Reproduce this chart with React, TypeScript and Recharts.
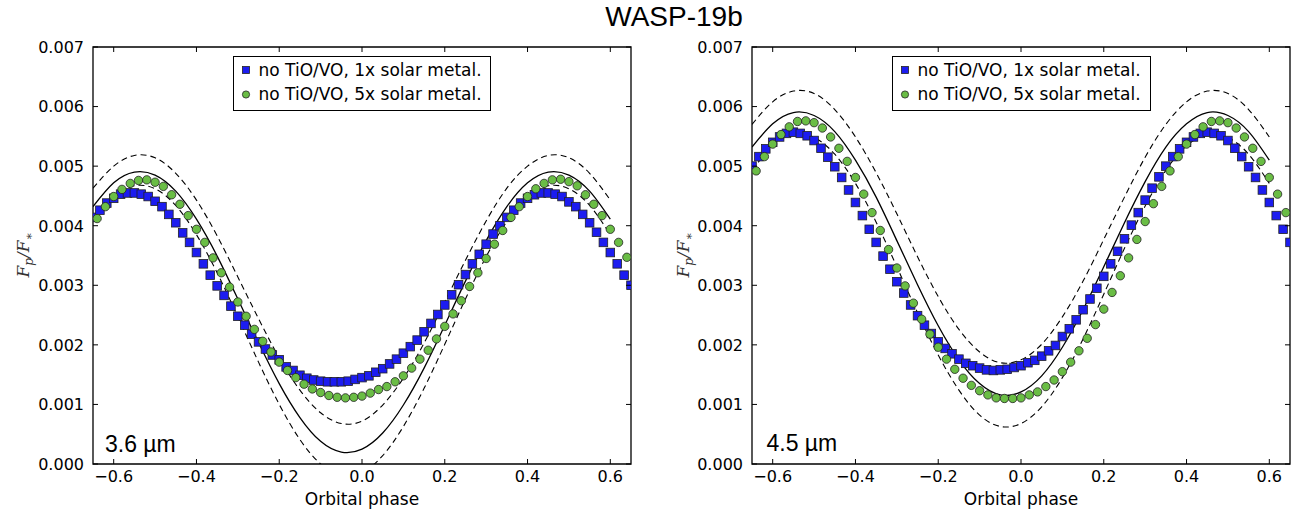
import React from 'react';
import { ComposedChart, Line, Scatter, XAxis, YAxis, ReferenceArea } from 'recharts';

// ---------- data (flux ratio in units of 1e-3) ----------
const sqPhase = [
  -0.65, -0.6333, -0.6167, -0.6, -0.5833, -0.5667, -0.55, -0.5333, -0.5167, -0.5,
  -0.4833, -0.4667, -0.45, -0.4333, -0.4167, -0.4, -0.3833, -0.3667, -0.35, -0.3333,
  -0.3167, -0.3, -0.2833, -0.2667, -0.25, -0.2333, -0.2167, -0.2, -0.1833, -0.1667,
  -0.15, -0.1333, -0.1167, -0.1, -0.0833, -0.0667, -0.05, -0.0333, -0.0167, 0,
  0.0167, 0.0333, 0.05, 0.0667, 0.0833, 0.1, 0.1167, 0.1333, 0.15, 0.1667,
  0.1833, 0.2, 0.2167, 0.2333, 0.25, 0.2667, 0.2833, 0.3, 0.3167, 0.3333,
  0.35, 0.3667, 0.3833, 0.4, 0.4167, 0.4333, 0.45, 0.4667, 0.4833, 0.5,
  0.5167, 0.5333, 0.55, 0.5667, 0.5833, 0.6, 0.6167, 0.6333, 0.65,
];
const circPhase = [
  -0.64, -0.62, -0.6, -0.58, -0.56, -0.54, -0.52, -0.5, -0.48, -0.46, -0.44, -0.42, -0.4,
  -0.38, -0.36, -0.34, -0.32, -0.3, -0.28, -0.26, -0.24, -0.22, -0.2, -0.18, -0.16, -0.14,
  -0.12, -0.1, -0.08, -0.06, -0.04, -0.02, 0, 0.02, 0.04, 0.06, 0.08, 0.1, 0.12, 0.14,
  0.16, 0.18, 0.2, 0.22, 0.24, 0.26, 0.28, 0.3, 0.32, 0.34, 0.36, 0.38, 0.4, 0.42, 0.44,
  0.46, 0.48, 0.5, 0.52, 0.54, 0.56, 0.58, 0.6, 0.62, 0.64,
];
const linePhase = [
  -0.65, -0.6, -0.55, -0.5, -0.45, -0.4, -0.35, -0.3, -0.25, -0.2, -0.15, -0.1, -0.05,
  0, 0.05, 0.1, 0.15, 0.2, 0.25, 0.3, 0.35, 0.4, 0.45, 0.5, 0.55, 0.6,
];

// 3.6 micron
const sq36 = [
  4.14, 4.26, 4.38, 4.46, 4.53, 4.55, 4.55, 4.53, 4.49, 4.41, 4.32, 4.19, 4.05, 3.88, 3.72,
  3.55, 3.36, 3.17, 2.99, 2.83, 2.65, 2.48, 2.33, 2.18, 2.05, 1.93, 1.83, 1.75, 1.63, 1.57,
  1.49, 1.44, 1.41, 1.39, 1.38, 1.38, 1.38, 1.39, 1.42, 1.45, 1.48, 1.54, 1.60, 1.68, 1.76,
  1.86, 1.97, 2.08, 2.22, 2.36, 2.51, 2.67, 2.84, 3.01, 3.18, 3.36, 3.52, 3.69, 3.86, 4.00,
  4.14, 4.26, 4.38, 4.46, 4.52, 4.55, 4.55, 4.53, 4.49, 4.40, 4.32, 4.19, 4.05, 3.89, 3.72,
  3.55, 3.36, 3.17, 3.00,
];
const ci36 = [
  4.12, 4.32, 4.49, 4.61, 4.71, 4.76, 4.77, 4.73, 4.66, 4.52, 4.36, 4.17, 3.94, 3.72, 3.46,
  3.21, 2.97, 2.72, 2.48, 2.26, 2.06, 1.88, 1.71, 1.57, 1.45, 1.34, 1.26, 1.20, 1.15, 1.12,
  1.11, 1.12, 1.14, 1.19, 1.25, 1.30, 1.38, 1.48, 1.61, 1.76, 1.91, 2.10, 2.31, 2.52, 2.74,
  2.98, 3.21, 3.45, 3.69, 3.92, 4.14, 4.32, 4.49, 4.62, 4.71, 4.77, 4.78, 4.74, 4.67, 4.52,
  4.36, 4.17, 3.94, 3.72, 3.47,
];
const fit36 = [4.32, 4.72, 4.90, 4.85, 4.58, 4.11, 3.49, 2.77, 2.04, 1.35, 0.78, 0.38, 0.20, 0.25, 0.52, 0.99, 1.61, 2.33, 3.07, 3.75, 4.32, 4.72, 4.90, 4.85, 4.58, 4.11];
const hi36 = [4.63, 5.00, 5.18, 5.14, 4.88, 4.43, 3.83, 3.14, 2.44, 1.78, 1.24, 0.86, 0.68, 0.72, 0.99, 1.44, 2.03, 2.72, 3.42, 4.08, 4.63, 5.00, 5.18, 5.14, 4.88, 4.43];
const lo36 = [4.07, 4.48, 4.67, 4.62, 4.34, 3.85, 3.21, 2.47, 1.71, 1.00, 0.41, 0.00, -0.19, -0.14, 0.14, 0.63, 1.27, 2.01, 2.77, 3.48, 4.07, 4.48, 4.67, 4.62, 4.34, 3.85];

// 4.5 micron
const sq45 = [
  5.00, 5.16, 5.29, 5.40, 5.49, 5.55, 5.57, 5.55, 5.51, 5.43, 5.30, 5.15, 4.99, 4.81, 4.60,
  4.39, 4.17, 3.94, 3.72, 3.49, 3.27, 3.06, 2.87, 2.67, 2.49, 2.33, 2.19, 2.05, 1.94, 1.85,
  1.76, 1.69, 1.65, 1.61, 1.58, 1.57, 1.58, 1.59, 1.62, 1.65, 1.70, 1.74, 1.81, 1.90, 1.99,
  2.14, 2.27, 2.42, 2.59, 2.77, 2.95, 3.15, 3.36, 3.57, 3.78, 4.01, 4.22, 4.43, 4.63, 4.82,
  5.00, 5.16, 5.29, 5.40, 5.49, 5.55, 5.57, 5.55, 5.51, 5.43, 5.30, 5.16, 4.99, 4.81, 4.60,
  4.39, 4.17, 3.94, 3.72,
];
const ci45 = [
  4.92, 5.16, 5.37, 5.53, 5.66, 5.75, 5.76, 5.73, 5.64, 5.49, 5.30, 5.08, 4.81, 4.53, 4.22,
  3.92, 3.60, 3.29, 2.99, 2.70, 2.43, 2.18, 1.96, 1.76, 1.59, 1.44, 1.32, 1.23, 1.16, 1.11,
  1.10, 1.10, 1.11, 1.16, 1.21, 1.30, 1.41, 1.55, 1.71, 1.90, 2.11, 2.34, 2.60, 2.88, 3.16,
  3.46, 3.77, 4.07, 4.37, 4.66, 4.92, 5.16, 5.37, 5.53, 5.66, 5.75, 5.76, 5.73, 5.64, 5.49,
  5.30, 5.08, 4.81, 4.53, 4.22,
];
const fit45 = [5.32, 5.71, 5.90, 5.85, 5.58, 5.10, 4.48, 3.75, 3.01, 2.32, 1.75, 1.35, 1.16, 1.21, 1.48, 1.96, 2.59, 3.31, 4.05, 4.74, 5.32, 5.71, 5.90, 5.85, 5.58, 5.10];
const hi45 = [5.70, 6.08, 6.26, 6.22, 5.95, 5.49, 4.89, 4.20, 3.48, 2.81, 2.26, 1.88, 1.70, 1.75, 2.01, 2.47, 3.07, 3.77, 4.48, 5.15, 5.70, 6.08, 6.26, 6.22, 5.95, 5.49];
const lo45 = [4.93, 5.34, 5.53, 5.48, 5.20, 4.71, 4.06, 3.31, 2.54, 1.83, 1.24, 0.82, 0.63, 0.68, 0.96, 1.45, 2.10, 2.85, 3.62, 4.33, 4.93, 5.34, 5.53, 5.48, 5.20, 4.71];

const xTicks = [-0.6, -0.4, -0.2, 0, 0.2, 0.4, 0.6];
const xTickLabels = ['\u22120.6', '\u22120.4', '\u22120.2', '0.0', '0.2', '0.4', '0.6'];
const yTicks = [0, 1, 2, 3, 4, 5, 6, 7];
const yTickLabels = ['0.000', '0.001', '0.002', '0.003', '0.004', '0.005', '0.006', '0.007'];

const legendLabels = ['no TiO/VO, 1x solar metal.', 'no TiO/VO, 5x solar metal.'];
const panelLabels = ['3.6 \u00b5m', '4.5 \u00b5m'];
const title = 'WASP-19b';
const xLabel = 'Orbital phase';

// ---------- style ----------
const H = 512;
const PLOT_TOP = 47;
const PLOT_BOTTOM = 464;
const TICK = 5;
const SANS = '"DejaVu Sans", sans-serif';
const BLUE = '#1c1cf0';
const GREEN = '#6abd45';
const EDGE = '#222';

const zip = (xs: number[], ys: number[]) => xs.map((x, i) => ({ x, y: ys[i] }));

const SquareShape = (p: any) => (
  <rect x={p.cx - 4.3} y={p.cy - 4.3} width={8.6} height={8.6} fill={BLUE} stroke={EDGE} strokeWidth={0.8} />
);
const CircleShape = (p: any) => (
  <circle cx={p.cx} cy={p.cy} r={4.2} fill={GREEN} stroke={EDGE} strokeWidth={0.8} />
);

type PanelProps = {
  left: number;
  width: number;
  yAxisWidth: number;
  marginRight: number;
  squares: number[];
  circles: number[];
  fit: number[];
  hi: number[];
  lo: number[];
};

function Panel({ left, width, yAxisWidth, marginRight, squares, circles, fit, hi, lo }: PanelProps) {
  const plotLeft = yAxisWidth;
  const plotRight = width - marginRight;

  const XTick = (p: any) => {
    const idx = xTicks.indexOf(p.payload.value);
    return (
      <g>
        <line x1={p.x} x2={p.x} y1={PLOT_BOTTOM} y2={PLOT_BOTTOM - TICK} stroke="#000" strokeWidth={1} />
        <line x1={p.x} x2={p.x} y1={PLOT_TOP} y2={PLOT_TOP + TICK} stroke="#000" strokeWidth={1} />
        <text x={p.x} y={481.5} textAnchor="middle" fontFamily={SANS} fontSize={16} fill="#000">
          {xTickLabels[idx]}
        </text>
      </g>
    );
  };
  const YTick = (p: any) => {
    const idx = yTicks.indexOf(p.payload.value);
    return (
      <g>
        <line x1={plotLeft} x2={plotLeft + TICK} y1={p.y} y2={p.y} stroke="#000" strokeWidth={1} />
        <line x1={plotRight} x2={plotRight - TICK} y1={p.y} y2={p.y} stroke="#000" strokeWidth={1} />
        <text x={plotLeft - 9} y={p.y + 5.8} textAnchor="end" fontFamily={SANS} fontSize={16} fill="#000">
          {yTickLabels[idx]}
        </text>
      </g>
    );
  };

  return (
    <div style={{ position: 'absolute', left, top: 0 }}>
      <ComposedChart width={width} height={H} margin={{ top: PLOT_TOP, right: marginRight, left: 0, bottom: 0 }}>
        <XAxis
          dataKey="x"
          type="number"
          domain={[-0.65, 0.65]}
          ticks={xTicks}
          interval={0}
          allowDataOverflow
          height={H - PLOT_BOTTOM}
          axisLine={false}
          tickLine={false}
          tick={(p: any) => <XTick {...p} />}
        />
        <YAxis
          dataKey="y"
          type="number"
          domain={[0, 7]}
          ticks={yTicks}
          interval={0}
          allowDataOverflow
          width={yAxisWidth}
          axisLine={false}
          tickLine={false}
          tick={(p: any) => <YTick {...p} />}
        />
        <Scatter data={zip(sqPhase, squares)} shape={SquareShape} isAnimationActive={false} />
        <Scatter data={zip(circPhase, circles)} shape={CircleShape} isAnimationActive={false} />
        <Line data={zip(linePhase, hi)} dataKey="y" type="natural" stroke="#000" strokeWidth={1.1} strokeDasharray="6 4" dot={false} activeDot={false} isAnimationActive={false} />
        <Line data={zip(linePhase, lo)} dataKey="y" type="natural" stroke="#000" strokeWidth={1.1} strokeDasharray="6 4" dot={false} activeDot={false} isAnimationActive={false} />
        <Line data={zip(linePhase, fit)} dataKey="y" type="natural" stroke="#000" strokeWidth={1.3} dot={false} activeDot={false} isAnimationActive={false} />
        <ReferenceArea x1={-0.65} x2={0.65} y1={0} y2={7} fill="#fff" fillOpacity={0} stroke="#000" strokeWidth={1.3} ifOverflow="visible" />
      </ComposedChart>
    </div>
  );
}

function LegendBox({ x, y, w }: { x: number; y: number; w: number }) {
  return (
    <g>
      <rect x={x + 0.5} y={y + 0.5} width={w} height={54} fill="#fff" stroke="#000" strokeWidth={1} />
      <rect x={x + 9.5} y={y + 10.5} width={7} height={7} fill={BLUE} stroke={EDGE} strokeWidth={0.8} />
      <circle cx={x + 13} cy={y + 38.5} r={3.6} fill={GREEN} stroke={EDGE} strokeWidth={0.8} />
      <text x={x + 25.5} y={y + 19.5} fontFamily={SANS} fontSize={17} fill="#000">{legendLabels[0]}</text>
      <text x={x + 25.5} y={y + 44} fontFamily={SANS} fontSize={17} fill="#000">{legendLabels[1]}</text>
    </g>
  );
}

function YLabel({ x }: { x: number }) {
  return (
    <text
      transform={`translate(${x},255) rotate(-90)`}
      textAnchor="middle"
      fontFamily='"DejaVu Serif", serif'
      fontStyle="italic"
      fontSize={17}
      fill="#333"
    >
      <tspan>F</tspan>
      <tspan fontSize={12} dy={4}>p</tspan>
      <tspan dy={-4}>/F</tspan>
      <tspan fontSize={12} dy={4}>{'\u2217'}</tspan>
    </text>
  );
}

export default function App() {
  return (
    <div style={{ position: 'absolute', left: 0, top: 0, width: 1307, height: H, background: '#fff', overflow: 'hidden' }}>
      <Panel left={0} width={660} yAxisWidth={93} marginRight={29} squares={sq36} circles={ci36} fit={fit36} hi={hi36} lo={lo36} />
      <Panel left={656} width={651} yAxisWidth={96} marginRight={17} squares={sq45} circles={ci45} fit={fit45} hi={hi45} lo={lo45} />
      <svg width={1307} height={H} style={{ position: 'absolute', left: 0, top: 0, pointerEvents: 'none' }}>
        <text x={674} y={26} textAnchor="middle" fontFamily='"Liberation Sans", Arial, sans-serif' fontSize={28} fill="#000">
          {title}
        </text>
        <LegendBox x={233} y={56} w={257} />
        <LegendBox x={892} y={56} w={258} />
        <text x={105} y={451.5} fontFamily='"Liberation Sans", Arial, sans-serif' fontSize={23} fill="#000">{panelLabels[0]}</text>
        <text x={766.5} y={451} fontFamily='"Liberation Sans", Arial, sans-serif' fontSize={23} fill="#000">{panelLabels[1]}</text>
        <text x={362} y={505} textAnchor="middle" fontFamily={SANS} fontSize={17} fill="#000">{xLabel}</text>
        <text x={1021} y={505} textAnchor="middle" fontFamily={SANS} fontSize={17} fill="#000">{xLabel}</text>
        <YLabel x={29} />
        <YLabel x={689} />
      </svg>
    </div>
  );
}
